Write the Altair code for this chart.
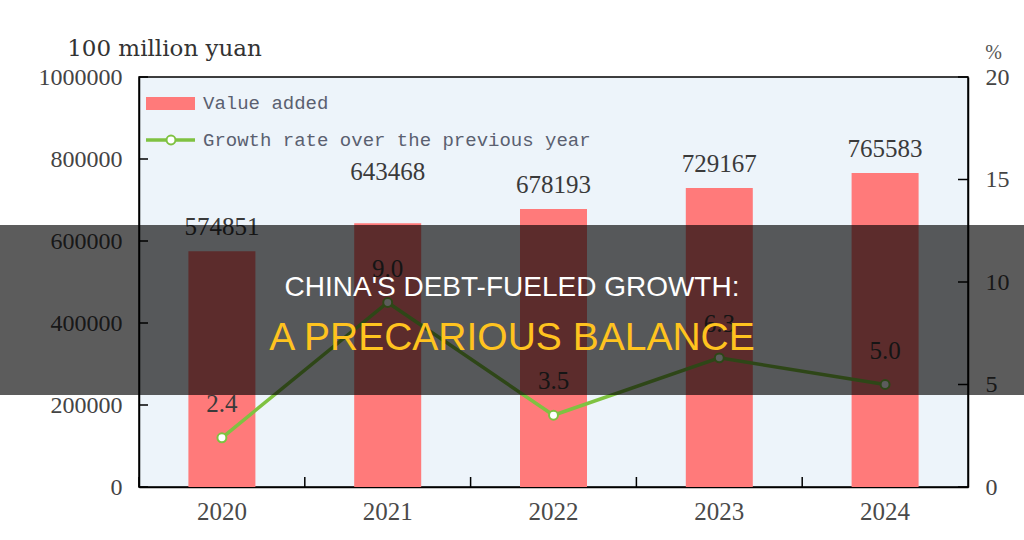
import altair as alt
import pandas as pd

years = ["2020", "2021", "2022", "2023", "2024"]
value_added = [574851, 643468, 678193, 729167, 765583]
growth = [2.4, 9.0, 3.5, 6.3, 5.0]
left_ticks = [0, 200000, 400000, 600000, 800000, 1000000]
right_ticks = [0, 5, 10, 15, 20]

W, H = 829, 410
BAR = "#FF7A7A"
GREEN = "#7FC241"
SERIF = "Liberation Serif"
MONO = "Liberation Mono"

df = pd.DataFrame({"year": years, "value": value_added, "growth": growth})
df_lt = pd.DataFrame({"value": left_ticks})
df_rt = pd.DataFrame({"growth": right_ticks})
one = pd.DataFrame({"a": [0]})

xenc = alt.X("year:N", sort=years,
             scale=alt.Scale(paddingInner=0, paddingOuter=0),
             axis=alt.Axis(title=None, labelAngle=0, tickSize=0, labelPadding=12,
                           labelFont=SERIF, labelFontSize=25, labelColor="#4a4a4a",
                           domainColor="black", domainWidth=1.5))

lscale = alt.Scale(domain=[0, 1000000], nice=False)
rscale = alt.Scale(domain=[0, 20], nice=False)

bars = alt.Chart(df).mark_bar(size=67, color=BAR).encode(
    x=xenc,
    y=alt.Y("value:Q", scale=lscale,
            axis=alt.Axis(orient="left", values=left_ticks, format="d", tickSize=0,
                          labelPadding=17, labelFont=SERIF, labelFontSize=24,
                          labelColor="#444444", domainColor="black", domainWidth=1.5,
                          grid=False, title="100 million yuan", titleAngle=0,
                          titleX=25, titleY=-29, titleAlign="center",
                          titleBaseline="middle", titleFont="DejaVu Serif",
                          titleFontSize=23, titleFontWeight="normal",
                          titleColor="#333333")),
)
bar_labels = alt.Chart(df).transform_filter("datum.year != '2021'").mark_text(
    dy=-24, baseline="middle", font=SERIF, fontSize=25, color="#3a3a3a"
).encode(x=alt.X("year:N", sort=years), y=alt.Y("value:Q", scale=lscale),
         text=alt.Text("value:Q", format="d"))
bar_labels_21 = alt.Chart(df).transform_filter("datum.year == '2021'").mark_text(
    dy=-51, baseline="middle", font=SERIF, fontSize=25, color="#3a3a3a"
).encode(x=alt.X("year:N", sort=years), y=alt.Y("value:Q", scale=lscale),
         text=alt.Text("value:Q", format="d"))
lticks = alt.Chart(df_lt).mark_rule(color="black", strokeWidth=1.5).encode(
    y=alt.Y("value:Q", scale=lscale), x=alt.value(0), x2=alt.value(9))
xticks = alt.Chart(pd.DataFrame({"year": years})).mark_rule(
    color="black", strokeWidth=1.5).encode(
    x=alt.X("year:N", sort=years, bandPosition=0), y=alt.value(H), y2=alt.value(H - 10))

left = alt.layer(bars, bar_labels, bar_labels_21, lticks, xticks)

line = alt.Chart(df).mark_line(color=GREEN, strokeWidth=3.5).encode(
    x=alt.X("year:N", sort=years),
    y=alt.Y("growth:Q", scale=rscale,
            axis=alt.Axis(orient="right", values=right_ticks, tickSize=0,
                          labelPadding=17, labelFont=SERIF, labelFontSize=24,
                          labelColor="#444444", domainColor="black", domainWidth=1.5,
                          grid=False, title="%", titleAngle=0, titleX=25, titleY=-25,
                          titleAlign="center", titleBaseline="middle",
                          titleFont=SERIF, titleFontSize=20, titleFontWeight="normal",
                          titleColor="#555555")),
)
points = alt.Chart(df).mark_point(filled=True, fill="white", stroke=GREEN,
                                  strokeWidth=2, size=80, opacity=1).encode(
    x=alt.X("year:N", sort=years), y=alt.Y("growth:Q", scale=rscale))
g_labels = alt.Chart(df).mark_text(dy=-34, baseline="middle", font=SERIF,
                                   fontSize=25, color="#3a3a3a").encode(
    x=alt.X("year:N", sort=years), y=alt.Y("growth:Q", scale=rscale),
    text=alt.Text("growth:Q", format=".1f"))
rticks = alt.Chart(df_rt).mark_rule(color="black", strokeWidth=1.5).encode(
    y=alt.Y("growth:Q", scale=rscale), x=alt.value(W - 10), x2=alt.value(W))

right = alt.layer(line, points, g_labels, rticks)

base1 = alt.Chart(one)
leg_rect = base1.mark_rect(color=BAR).encode(
    x=alt.value(7), x2=alt.value(56), y=alt.value(20), y2=alt.value(33))
leg_t1 = base1.mark_text(align="left", baseline="middle", font=MONO, fontSize=19,
                         color="#5a6070").encode(
    x=alt.value(64), y=alt.value(26), text=alt.value("Value added"))
leg_line = base1.mark_rule(color=GREEN, strokeWidth=3.5).encode(
    x=alt.value(7), x2=alt.value(56), y=alt.value(63))
leg_pt = base1.mark_point(filled=True, fill="white", stroke=GREEN, strokeWidth=2,
                          size=80, opacity=1).encode(x=alt.value(32), y=alt.value(63))
leg_t2 = base1.mark_text(align="left", baseline="middle", font=MONO, fontSize=19,
                         color="#5a6070").encode(
    x=alt.value(64), y=alt.value(63),
    text=alt.value("Growth rate over the previous year"))

overlay = base1.mark_rect(color="black", opacity=0.64).encode(
    x=alt.value(-139), x2=alt.value(W + 56), y=alt.value(148), y2=alt.value(318))
title1 = base1.mark_text(align="center", baseline="middle", font="Liberation Sans",
                         fontSize=28, color="white").encode(
    x=alt.value(373), y=alt.value(211), text=alt.value("CHINA'S DEBT-FUELED GROWTH:"))
title2 = base1.mark_text(align="center", baseline="middle", font="Liberation Sans",
                         fontSize=39, color="#FFC31F").encode(
    x=alt.value(373), y=alt.value(261), text=alt.value("A PRECARIOUS BALANCE"))

deco = alt.layer(leg_rect, leg_t1, leg_line, leg_pt, leg_t2, overlay, title1, title2)

chart = alt.layer(left, right, deco).resolve_scale(y="independent").properties(
    width=W, height=H,
    padding={"left": 139, "top": 77, "right": 56, "bottom": 53},
    autosize=alt.AutoSizeParams(type="none"),
    background="white",
).configure_view(fill="#EDF4FA", stroke="black", strokeWidth=1.5)

chart.save("out.html", embed_options={"renderer": "svg", "actions": False})
